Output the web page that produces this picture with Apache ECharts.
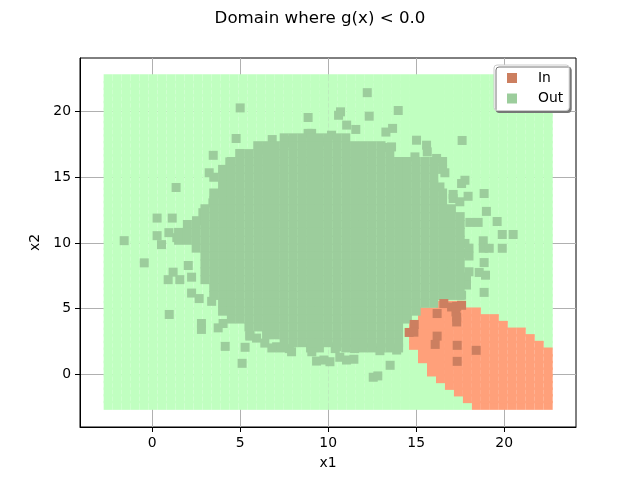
<!DOCTYPE html>
<html><head><meta charset="utf-8">
<script src="https://cdn.jsdelivr.net/npm/echarts@6/dist/echarts.min.js"></script>
<style>html,body{margin:0;padding:0;background:#fff}#c{width:640px;height:480px}</style>
</head><body><div id="c"></div>
<script>
// Values.
const xTicks = [0, 5, 10, 15, 20];
const yTicks = [0, 5, 10, 15, 20];
const gridXValues = [-2.5,-1.99,-1.48,-0.97,-0.46,0.05,0.56,1.07,1.58,2.09,2.6,3.11,3.62,4.13,4.64,5.15,5.66,6.17,6.68,7.19,7.7,8.21,8.72,9.23,9.74,10.26,10.77,11.28,11.79,12.3,12.81,13.32,13.83,14.34,14.85,15.36,15.87,16.38,16.89,17.4,17.91,18.42,18.93,19.44,19.95,20.46,20.97,21.48,21.99,22.5];
const gridYValues = [-2.37,-1.86,-1.35,-0.85,-0.34,0.17,0.68,1.18,1.69,2.2,2.71,3.21,3.72,4.23,4.74,5.24,5.75,6.26,6.77,7.27,7.78,8.29,8.8,9.3,9.81,10.32,10.83,11.33,11.84,12.35,12.86,13.36,13.87,14.38,14.89,15.39,15.9,16.41,16.92,17.42,17.93,18.44,18.95,19.45,19.96,20.47,20.98,21.48,21.99,22.5];
// For grid rows 0..15 (from the bottom): first and last grid column inside the domain.
const inFirstColumn = [41,40,39,38,37,36,36,35,35,34,34,34,34,35,35,37];
const inLastColumn  = [49,49,49,49,49,49,49,49,49,48,47,46,44,43,41,39];
const sampleIn = [[16.57,5.38],[16.19,4.62],[17.3,5.17],[17.58,5.25],[17.01,5.12],[17.26,4.74],[17.3,4.34],[17.3,3.98],[14.89,3.79],[14.6,3.18],[14.87,3.2],[16.19,2.9],[16.08,2.27],[17.33,2.2],[18.41,1.82],[17.33,0.98]];
// Individually readable sample points outside the domain.
const sampleOutSparse = [[5,20.28],[4.77,17.95],[3.47,16.67],[6.82,17.87],[6.08,17.07],[4.98,16.81],[4.41,16.17],[3.24,15.34],[1.36,14.22],[0.28,11.89],[1.14,11.89],[2.52,11.69],[3.85,13.73],[3.45,13.05],[2.88,12.3],
[-1.59,10.17],[-0.45,8.48],[0.28,10.55],[0.53,9.87],[0.95,10.78],[1.4,10.4],[2.05,8.28],[1.19,7.77],[0.91,7.2],[1.57,7.2],[2.24,7.39],[2.24,6.18],[2.67,5.76],[3.38,5.55],[0.97,4.55],[2.8,3.86],[2.8,3.41],[3.75,3.53],[4.03,3.86],[4.15,2.12],[5.28,2.05],[5.11,0.83],[5.55,2.9],[5.93,2.75],[7.07,2.09],
[5.55,2.98],[6.4,2.37],[6.8,2],[7.3,2],[7.8,1.95],[9,2],[9.5,2],[10.4,1.95],[11,2],[11.5,1.95],[12,2],[12.5,2],[13,2],[13.5,2],[14,2],[7.92,1.71],[9.07,1.71],[9.34,1],[9.76,1.08],[10.1,0.95],[10.66,1.29],[11.04,1.08],[11.46,1.14],[12.56,-0.23],[12.82,-0.13],[13.52,0.68],[12.94,1.79],[13.89,1.84],[11.97,2.09],[10.48,2.09],
[12.22,21.44],[10.7,19.98],[10.59,19.72],[12.33,19.65],[13.98,20.08],[8.86,19.55],[11.05,18.97],[11.57,18.64],[13.66,18.72],[13.28,18.44],[9.06,18.34],[8.86,18.34],[10.19,18.2],[7.82,17.82],[7.64,17.6],[9.63,17.69],[15.02,17.82],[15.59,17.44],[15.63,16.93],[17.61,17.8],[14.93,16.55],[16.16,16.43],[16.63,15.34],[17.77,14.77],[17.58,14.52],[16.35,14.26],[13.6,17.31],[13.22,17.27],
[17.1,13.69],[17.1,13.38],[17.95,13.55],[17.48,13.13],[18.86,13.76],[18.99,12.4],[19.6,11.63],[18.52,11.56],[18.05,11.56],[19.89,10.64],[20.51,10.64],[18.81,10.16],[18.81,9.59],[19.15,9.59],[19.89,9.59],[17.77,9.96],[17.95,9.2],[18.86,8.5],[18.58,7.75],[18.94,7.54],[17.86,7.41],[17.86,6.79],[18.86,6.23],[17.58,6.02]];
// The core of the cloud is solid in the picture, so single points cannot be read there:
// these rows [x2, [x1...]] are points placed by eye to cover the same solid outline.
const sampleOutCore = [
[18,[7.5,8,8.5,9,9.5,10,10.5,11]],
[17.4,[6,6.5,7,7.5,8,8.5,9,9.5,10,10.5,11,11.5,12,12.5,13]],
[16.8,[5,5.5,6,6.5,7,7.5,8,8.5,9,9.5,10,10.5,11,11.5,12,12.5,13,13.5]],
[16.2,[4.5,5,5.5,6,6.5,7,7.5,8,8.5,9,9.5,10,10.5,11,11.5,12,12.5,13,13.5,14,14.5,15,15.5,16,16.5]],
[15.6,[4,4.5,5,5.5,6,6.5,7,7.5,8,8.5,9,9.5,10,10.5,11,11.5,12,12.5,13,13.5,14,14.5,15,15.5,16,16.5]],
[15,[3.5,4,4.5,5,5.5,6,6.5,7,7.5,8,8.5,9,9.5,10,10.5,11,11.5,12,12.5,13,13.5,14,14.5,15,15.5,16]],
[14.4,[4,4.5,5,5.5,6,6.5,7,7.5,8,8.5,9,9.5,10,10.5,11,11.5,12,12.5,13,13.5,14,14.5,15,15.5,16]],
[13.8,[3.5,4,4.5,5,5.5,6,6.5,7,7.5,8,8.5,9,9.5,10,10.5,11,11.5,12,12.5,13,13.5,14,14.5,15,15.5,16,16.5]],
[13.2,[3.5,4,4.5,5,5.5,6,6.5,7,7.5,8,8.5,9,9.5,10,10.5,11,11.5,12,12.5,13,13.5,14,14.5,15,15.5,16,16.5]],
[12.6,[3,3.5,4,4.5,5,5.5,6,6.5,7,7.5,8,8.5,9,9.5,10,10.5,11,11.5,12,12.5,13,13.5,14,14.5,15,15.5,16,16.5,17]],
[12,[3,3.5,4,4.5,5,5.5,6,6.5,7,7.5,8,8.5,9,9.5,10,10.5,11,11.5,12,12.5,13,13.5,14,14.5,15,15.5,16,16.5,17,17.5]],
[11.4,[2,2.5,3,3.5,4,4.5,5,5.5,6,6.5,7,7.5,8,8.5,9,9.5,10,10.5,11,11.5,12,12.5,13,13.5,14,14.5,15,15.5,16,16.5,17,17.5]],
[10.8,[1.5,2,2.5,3,3.5,4,4.5,5,5.5,6,6.5,7,7.5,8,8.5,9,9.5,10,10.5,11,11.5,12,12.5,13,13.5,14,14.5,15,15.5,16,16.5,17,17.5]],
[10.2,[1.5,2,2.5,3,3.5,4,4.5,5,5.5,6,6.5,7,7.5,8,8.5,9,9.5,10,10.5,11,11.5,12,12.5,13,13.5,14,14.5,15,15.5,16,16.5,17,17.5]],
[9.6,[2.5,3,3.5,4,4.5,5,5.5,6,6.5,7,7.5,8,8.5,9,9.5,10,10.5,11,11.5,12,12.5,13,13.5,14,14.5,15,15.5,16,16.5,17,17.5,18]],
[9,[3,3.5,4,4.5,5,5.5,6,6.5,7,7.5,8,8.5,9,9.5,10,10.5,11,11.5,12,12.5,13,13.5,14,14.5,15,15.5,16,16.5,17,17.5,18]],
[8.4,[3,3.5,4,4.5,5,5.5,6,6.5,7,7.5,8,8.5,9,9.5,10,10.5,11,11.5,12,12.5,13,13.5,14,14.5,15,15.5,16,16.5,17,17.5]],
[7.8,[3,3.5,4,4.5,5,5.5,6,6.5,7,7.5,8,8.5,9,9.5,10,10.5,11,11.5,12,12.5,13,13.5,14,14.5,15,15.5,16,16.5,17,17.5,18]],
[7.2,[3,3.5,4,4.5,5,5.5,6,6.5,7,7.5,8,8.5,9,9.5,10,10.5,11,11.5,12,12.5,13,13.5,14,14.5,15,15.5,16,16.5,17,17.5]],
[6.6,[3.5,4,4.5,5,5.5,6,6.5,7,7.5,8,8.5,9,9.5,10,10.5,11,11.5,12,12.5,13,13.5,14,14.5,15,15.5,16,16.5,17,17.5]],
[6,[3.5,4,4.5,5,5.5,6,6.5,7,7.5,8,8.5,9,9.5,10,10.5,11,11.5,12,12.5,13,13.5,14,14.5,15,15.5,16,16.5,17,17.5]],
[5.4,[4,4.5,5,5.5,6,6.5,7,7.5,8,8.5,9,9.5,10,10.5,11,11.5,12,12.5,13,13.5,14,14.5,15,15.5,16]],
[4.8,[4,4.5,5,5.5,6,6.5,7,7.5,8,8.5,9,9.5,10,10.5,11,11.5,12,12.5,13,13.5,14,14.5,15]],
[4.2,[4.5,5,5.5,6,6.5,7,7.5,8,8.5,9,9.5,10,10.5,11,11.5,12,12.5,13,13.5,14,14.5]],
[3.6,[5.5,6,6.5,7,7.5,8,8.5,9,9.5,10,10.5,11,11.5,12,12.5,13,13.5,14]],
[3,[6.5,7,7.5,8,8.5,9,9.5,10,10.5,11,11.5,12,12.5,13,13.5,14]],
[2.4,[7.5,8,8.5,9,9.5,10,10.5,11,11.5,12,12.5,13,13.5,14]]
];

const gridIn = [], gridOut = [];
gridYValues.forEach((y, j) => gridXValues.forEach((x, i) => {
  const inside = j < inFirstColumn.length && i >= inFirstColumn[j] && i <= inLastColumn[j];
  (inside ? gridIn : gridOut).push([x, y]);
}));
const sampleOut = sampleOutSparse.slice();
sampleOutCore.forEach(r => r[1].forEach(x => sampleOut.push([x, r[0]])));

const font = 'DejaVu Sans';
const axisCommon = {
  type: 'value', nameLocation: 'middle',
  nameTextStyle: {fontFamily: font, fontSize: 13.9, color: '#000'},
  axisLine: {show: true, onZero: false, lineStyle: {color: '#000', width: 1}},
  axisTick: {show: true, inside: false, length: 5, lineStyle: {color: '#000', width: 1}},
  axisLabel: {show: true, fontFamily: font, fontSize: 13.9, color: '#000', margin: 9},
  splitLine: {show: true, lineStyle: {color: '#b0b0b0', width: 1}}
};
const scatter = (name, data, color, z) => ({
  name, type: 'scatter', data, symbol: 'rect', symbolSize: 9, z,
  large: false, progressive: 0, animation: false,
  itemStyle: {color, opacity: 1, borderWidth: 0},
  emphasis: {disabled: true}, silent: true
});
const chart = echarts.init(document.getElementById('c'), null, {renderer: 'canvas'});
chart.setOption({
  animation: false, backgroundColor: '#fff',
  title: {text: 'Domain where g(x) < 0.0', left: 315, textAlign: 'center', top: 5,
    textStyle: {fontFamily: font, fontSize: 16.67, fontWeight: 'normal', color: '#000'}},
  grid: {left: 80, right: 64, top: 58, bottom: 53, show: true, borderColor: '#000', borderWidth: 1, containLabel: false},
  legend: {
    data: ['In', 'Out'], orient: 'vertical', left: 494, top: 65, icon: 'rect',
    itemWidth: 10, itemHeight: 10, itemGap: 6.5, padding: [6, 6, 5, 13],
    backgroundColor: '#fff', borderColor: '#ccc', borderWidth: 1, borderRadius: 3,
    shadowColor: '#777', shadowBlur: 0, shadowOffsetX: 2, shadowOffsetY: 2,
    textStyle: {fontFamily: font, fontSize: 13.9, color: '#000', padding: [0, 0, 0, 16]},
    selectedMode: false
  },
  xAxis: Object.assign({}, axisCommon, {name: 'x1', nameGap: 29, min: -4.1, max: 24.08,
    axisTick: Object.assign({}, axisCommon.axisTick, {customValues: xTicks}),
    axisLabel: Object.assign({}, axisCommon.axisLabel, {customValues: xTicks})}),
  yAxis: Object.assign({}, axisCommon, {name: 'x2', nameGap: 34, min: -4.02, max: 24.08,
    axisTick: Object.assign({}, axisCommon.axisTick, {customValues: yTicks}),
    axisLabel: Object.assign({}, axisCommon.axisLabel, {customValues: yTicks})}),
  series: [
    scatter('grid out', gridOut, '#c0ffc0', 2),
    scatter('grid in', gridIn, '#ffa07a', 3),
    scatter('Out', sampleOut, '#9ccd9c', 4),
    scatter('In', sampleIn, '#cc7f60', 5)
  ]
});
</script></body></html>
